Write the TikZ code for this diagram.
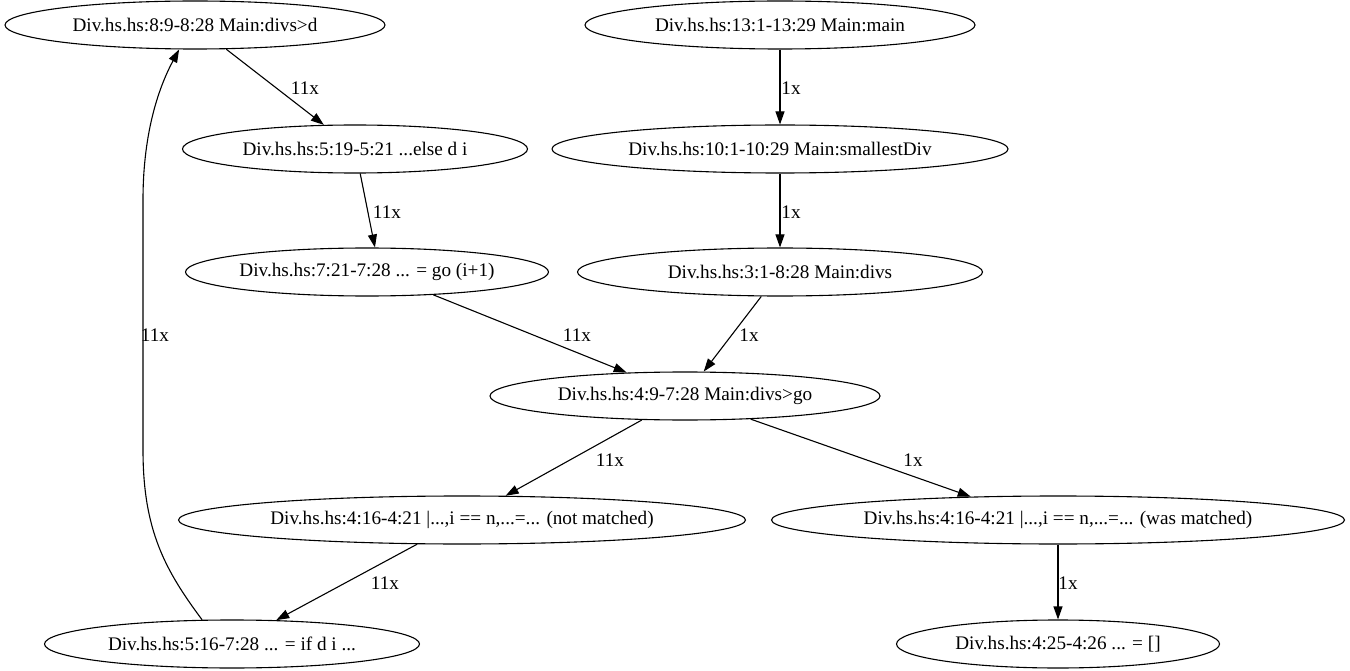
\documentclass[tikz,border=0pt]{standalone}
\usepackage{fontspec}
\setmainfont{Liberation Serif}
\usetikzlibrary{shapes.geometric,arrows.meta}
\newcommand\zb[1]{\makebox[0pt]{#1}}
\begin{document}
\begin{tikzpicture}[x=1pt,y=-1pt,
 nd/.style={ellipse,draw,line width=1.1pt,inner sep=0pt,minimum height=48pt,font=\fontsize{19.2}{21}\selectfont},
 edge/.style={draw,line width=1.1pt,-{Triangle[length=13pt,width=9pt]}},
 lbl/.style={font=\fontsize{19.2}{21}\selectfont,inner sep=0pt}]
\useasboundingbox[fill=white] (0,0) rectangle (1350,671);
\node[nd,minimum width=380pt] (divsd) at (195,25) {\zb{Div.hs.hs:8:9-8:28 Main:divs>d}};
\node[nd,minimum width=390pt] (main) at (780,25) {\zb{Div.hs.hs:13:1-13:29 Main:main}};
\node[nd,minimum width=345pt] (else) at (355,149) {\zb{Div.hs.hs:5:19-5:21 ...else d i}};
\node[nd,minimum width=456pt] (small) at (780,149) {\zb{Div.hs.hs:10:1-10:29 Main:smallestDiv}};
\node[nd,minimum width=363pt] (go1) at (367,272) {\zb{Div.hs.hs:7:21-7:28 ... = go (i+1)}};
\node[nd,minimum width=405pt] (divs) at (780,272) {\zb{Div.hs.hs:3:1-8:28 Main:divs}};
\node[nd,minimum width=390pt] (divsgo) at (685,396) {\zb{Div.hs.hs:4:9-7:28 Main:divs>go}};
\node[nd,minimum width=567pt] (notm) at (462,520) {\zb{Div.hs.hs:4:16-4:21 |...,i == n,...=... (not matched)}};
\node[nd,minimum width=573pt] (wasm) at (1058,520) {\zb{Div.hs.hs:4:16-4:21 |...,i == n,...=... (was matched)}};
\node[nd,minimum width=375pt] (ifd) at (232,644) {\zb{Div.hs.hs:5:16-7:28 ... = if d i ...}};
\node[nd,minimum width=323pt] (empty) at (1058,644) {\zb{Div.hs.hs:4:25-4:26 ... = []}};

\draw[edge] (divsd) -- (else);
\draw[edge] (else.-78) -- (go1.72);
\draw[edge] (main) -- (small);
\draw[edge] (small) -- (divs);
\draw[edge] (go1.-19) -- (divsgo);
\draw[edge] (divs) -- (divsgo);
\draw[edge] (divsgo) -- (notm);
\draw[edge] (divsgo) -- (wasm.165);
\draw[edge] (notm) -- (ifd);
\draw[edge] (wasm) -- (empty);
\draw[edge] (ifd.141) .. controls (165,570) and (143,530) .. (143,450) -- (143,200) .. controls (143,130) and (160,85) .. (divsd.237);

\node[lbl] (l1) at (305,88) {11x};
\node[lbl] (l2) at (387,212) {11x};
\node[lbl] (l3) at (791,88) {1x};
\node[lbl] (l4) at (791,212) {1x};
\node[lbl] (l5) at (577,335) {11x};
\node[lbl] (l6) at (749,335) {1x};
\node[lbl] (l7) at (610,460) {11x};
\node[lbl] (l8) at (913,460) {1x};
\node[lbl] (l9) at (385,583) {11x};
\node[lbl] (l10) at (1068,583) {1x};
\node[lbl] (l11) at (155,335) {11x};
\end{tikzpicture}
\end{document}
